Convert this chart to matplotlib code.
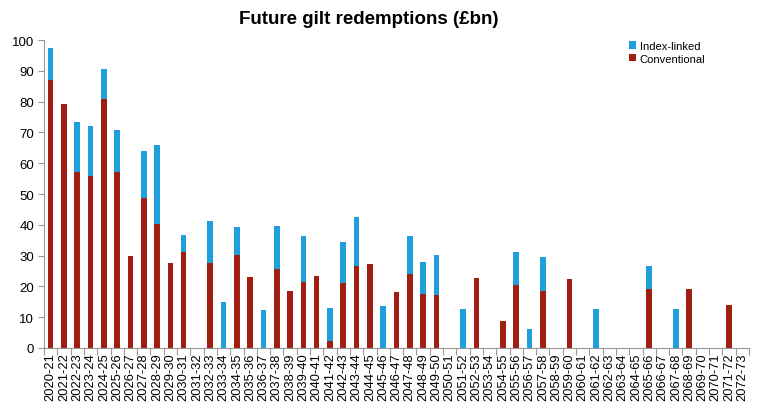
import matplotlib
matplotlib.use("Agg")
import matplotlib.pyplot as plt
import numpy as np

plt.rcParams['font.family'] = ['Liberation Sans', 'DejaVu Sans']

years = [f"{y}-{(y+1)%100:02d}" for y in range(2020, 2073)]

conventional = [87, 79.3, 57, 56, 81, 57, 30, 48.8, 40.3, 27.6,
                31.3, 0, 27.6, 0, 30.3, 23, 0, 25.7, 18.4, 21.5,
                23.3, 2.4, 21.2, 26.6, 27.2, 0, 18.3, 24.0, 17.5, 17.3,
                0, 0, 22.7, 0, 8.7, 20.3, 0, 18.6, 0, 22.4,
                0, 0, 0, 0, 0, 19.3, 0, 0, 19.1, 0,
                0, 13.8, 0]
index_linked = [10.5, 0, 16.3, 16, 9.5, 13.7, 0, 15.2, 25.5, 0,
                5.4, 0, 13.6, 15, 8.9, 0, 12.4, 13.8, 0, 15.0,
                0, 10.7, 13.3, 16.0, 0, 13.6, 0, 12.5, 10.3, 12.8,
                0, 12.7, 0, 0, 0, 11.0, 6.2, 11.0, 0, 0,
                0, 12.6, 0, 0, 0, 7.2, 0, 12.7, 0, 0,
                0, 0, 0]

red = '#A11F12'
blue = '#1F9FDB'

fig = plt.figure(figsize=(7.68, 4.14), dpi=100)
ax = fig.add_axes([44/768, 65/414, 705/768, 308/414])

x = np.arange(len(years))
w = 0.42
ax.bar(x, index_linked, w, bottom=conventional, color=blue, label='Index-linked', zorder=2)
ax.bar(x, conventional, w, color=red, label='Conventional', zorder=2)

ax.set_xlim(-0.5, len(years) - 0.5)
ax.set_ylim(0, 100)
ax.set_yticks(range(0, 101, 10))
ax.set_xticks(x)
ax.set_xticklabels(years, rotation=90, fontsize=9.3)
ax.set_xticks(np.arange(-0.5, len(years), 1), minor=True)
ax.tick_params(axis='x', which='major', length=0, pad=3)
ax.tick_params(axis='x', which='minor', length=5, color='#999999', width=0.8)
ax.tick_params(axis='y', length=4, color='#999999', width=0.8, labelsize=9.5, pad=3)

for s in ['top', 'right']:
    ax.spines[s].set_visible(False)
for s in ['left', 'bottom']:
    ax.spines[s].set_color('#999999')
    ax.spines[s].set_linewidth(0.8)

ax.set_title('Future gilt redemptions (£bn)', fontsize=13.5, fontweight='bold', pad=12, x=0.46)

handles, labels = ax.get_legend_handles_labels()
leg = ax.legend(handles, labels, loc='upper left', bbox_to_anchor=(0.815, 1.03),
                frameon=False, fontsize=8, handlelength=0.65, handleheight=0.65,
                handletextpad=0.35, labelspacing=0.25)

fig.savefig('out.png', dpi=100)
